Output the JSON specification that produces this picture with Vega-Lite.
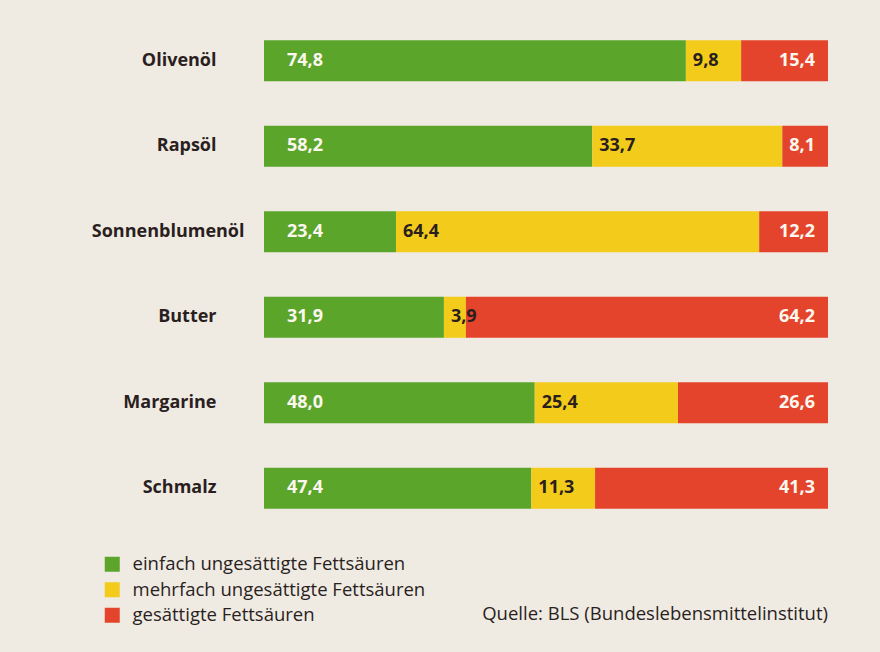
{
  "$schema": "https://vega.github.io/schema/vega-lite/v6.json",
  "width": 564,
  "height": 513,
  "autosize": {"type": "none"},
  "padding": {"left": 264, "top": 18, "right": 52, "bottom": 121},
  "background": "#efebe2",
  "config": {"view": {"stroke": null}, "font": "Open Sans"},
  "title": {
    "text": "Quelle: BLS (Bundeslebensmittelinstitut)",
    "orient": "bottom",
    "anchor": "end",
    "offset": -20,
    "fontSize": 18.5,
    "fontWeight": "normal",
    "color": "#2a1e1e",
    "font": "Open Sans"
  },
  "data": {
    "values": [
      {"food": "Olivenöl", "type": "einfach ungesättigte Fettsäuren", "value": 74.8, "order": 1, "label": "74,8"},
      {"food": "Olivenöl", "type": "mehrfach ungesättigte Fettsäuren", "value": 9.8, "order": 2, "label": "9,8"},
      {"food": "Olivenöl", "type": "gesättigte Fettsäuren", "value": 15.4, "order": 3, "label": "15,4"},
      {"food": "Rapsöl", "type": "einfach ungesättigte Fettsäuren", "value": 58.2, "order": 1, "label": "58,2"},
      {"food": "Rapsöl", "type": "mehrfach ungesättigte Fettsäuren", "value": 33.7, "order": 2, "label": "33,7"},
      {"food": "Rapsöl", "type": "gesättigte Fettsäuren", "value": 8.1, "order": 3, "label": "8,1"},
      {"food": "Sonnenblumenöl", "type": "einfach ungesättigte Fettsäuren", "value": 23.4, "order": 1, "label": "23,4"},
      {"food": "Sonnenblumenöl", "type": "mehrfach ungesättigte Fettsäuren", "value": 64.4, "order": 2, "label": "64,4"},
      {"food": "Sonnenblumenöl", "type": "gesättigte Fettsäuren", "value": 12.2, "order": 3, "label": "12,2"},
      {"food": "Butter", "type": "einfach ungesättigte Fettsäuren", "value": 31.9, "order": 1, "label": "31,9"},
      {"food": "Butter", "type": "mehrfach ungesättigte Fettsäuren", "value": 3.9, "order": 2, "label": "3,9"},
      {"food": "Butter", "type": "gesättigte Fettsäuren", "value": 64.2, "order": 3, "label": "64,2"},
      {"food": "Margarine", "type": "einfach ungesättigte Fettsäuren", "value": 48.0, "order": 1, "label": "48,0"},
      {"food": "Margarine", "type": "mehrfach ungesättigte Fettsäuren", "value": 25.4, "order": 2, "label": "25,4"},
      {"food": "Margarine", "type": "gesättigte Fettsäuren", "value": 26.6, "order": 3, "label": "26,6"},
      {"food": "Schmalz", "type": "einfach ungesättigte Fettsäuren", "value": 47.4, "order": 1, "label": "47,4"},
      {"food": "Schmalz", "type": "mehrfach ungesättigte Fettsäuren", "value": 11.3, "order": 2, "label": "11,3"},
      {"food": "Schmalz", "type": "gesättigte Fettsäuren", "value": 41.3, "order": 3, "label": "41,3"}
    ]
  },
  "transform": [
    {"stack": "value", "groupby": ["food"], "sort": [{"field": "order", "order": "ascending"}], "as": ["x0", "x1"]}
  ],
  "encoding": {
    "y": {
      "field": "food",
      "type": "nominal",
      "sort": ["Olivenöl", "Rapsöl", "Sonnenblumenöl", "Butter", "Margarine", "Schmalz"],
      "scale": {"paddingInner": 0.52, "paddingOuter": 0.26},
      "axis": {
        "title": null,
        "domain": false,
        "ticks": false,
        "labelFont": "Open Sans",
        "labelFontSize": 18,
        "labelFontWeight": "bold",
        "labelColor": "#2a1e1e",
        "labelPadding": {"condition": {"test": "datum.value === 'Sonnenblumenöl'", "value": 20}, "value": 48}
      }
    }
  },
  "layer": [
    {
      "mark": {"type": "bar"},
      "encoding": {
        "x": {"field": "x0", "type": "quantitative", "scale": {"domain": [0, 100], "nice": false}, "axis": null},
        "x2": {"field": "x1"},
        "color": {
          "field": "type",
          "type": "nominal",
          "scale": {
            "domain": ["einfach ungesättigte Fettsäuren", "mehrfach ungesättigte Fettsäuren", "gesättigte Fettsäuren"],
            "range": ["#5aa52a", "#f2cb1b", "#e4442b"]
          },
          "legend": {
            "title": null,
            "orient": "none",
            "legendX": -161,
            "legendY": 537,
            "padding": 0,
            "symbolType": "square",
            "symbolSize": 225,
            "symbolStrokeWidth": 0,
            "labelFont": "Open Sans",
            "labelFontSize": 18.5,
            "labelColor": "#2a1e1e",
            "labelOffset": 11,
            "rowPadding": 6.5,
            "labelLimit": 400
          }
        }
      }
    },
    {
      "transform": [{"filter": "datum.order === 1"}],
      "mark": {"type": "text", "align": "left", "baseline": "middle", "dx": 23, "fontSize": 18, "fontWeight": "bold", "color": "#fbf7ee"},
      "encoding": {
        "x": {"field": "x0", "type": "quantitative"},
        "text": {"field": "label"}
      }
    },
    {
      "transform": [{"filter": "datum.order === 2"}],
      "mark": {"type": "text", "align": "left", "baseline": "middle", "dx": 7, "fontSize": 18, "fontWeight": "bold", "color": "#2a1e1e"},
      "encoding": {
        "x": {"field": "x0", "type": "quantitative"},
        "text": {"field": "label"}
      }
    },
    {
      "transform": [{"filter": "datum.order === 3"}],
      "mark": {"type": "text", "align": "right", "baseline": "middle", "dx": -13, "fontSize": 18, "fontWeight": "bold", "color": "#fbf7ee"},
      "encoding": {
        "x": {"field": "x1", "type": "quantitative"},
        "text": {"field": "label"}
      }
    }
  ]
}
